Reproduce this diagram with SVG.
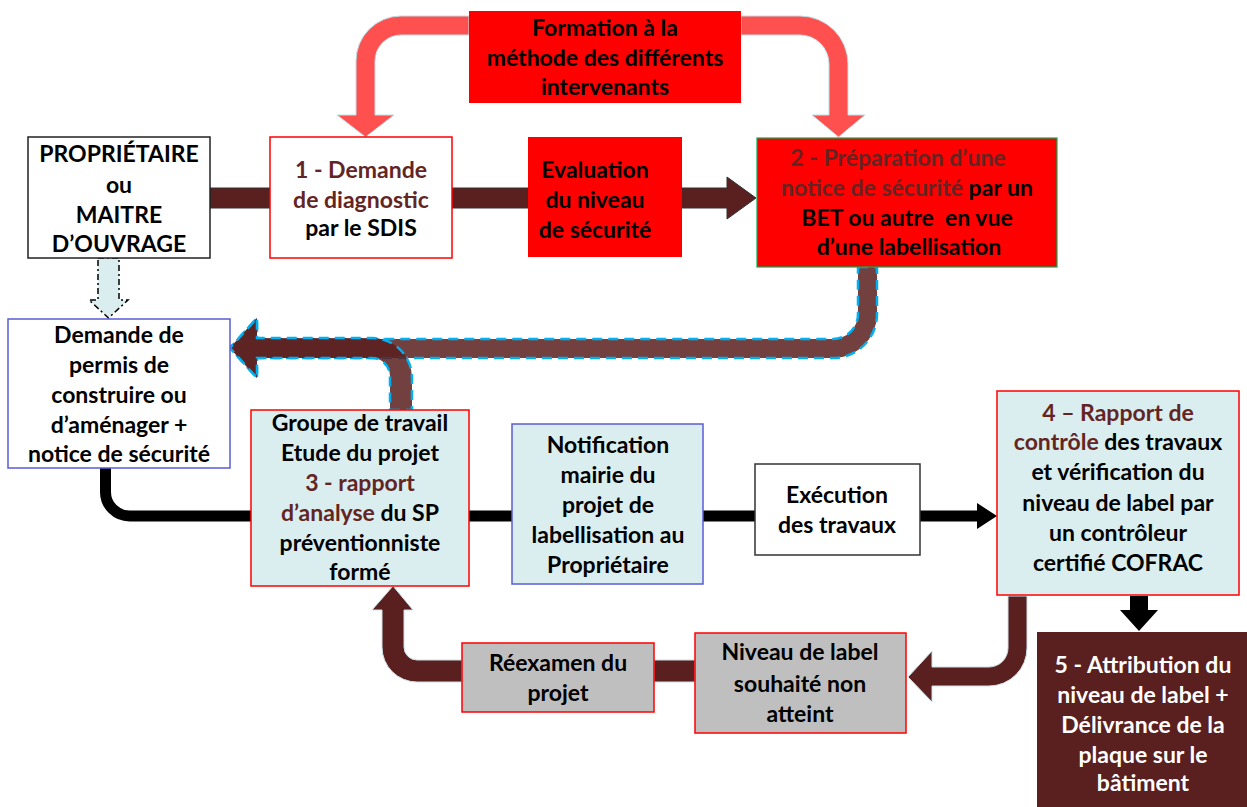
<svg xmlns="http://www.w3.org/2000/svg" width="1247" height="807" viewBox="0 0 1247 807">
<style>
text{font-family:Lato,"Liberation Sans",sans-serif;font-weight:bold;font-size:23px;text-anchor:middle;fill:#000}
.dr{fill:#632523}
.wt{fill:#fff}
.box{stroke-width:1.5}
.lb{fill:#DAEDEF}
.gr{fill:#BFBFBF}
.brown{fill:#5A1F1F;stroke:#C9E2E8;stroke-width:1}
.bigb{fill:#5A1F1F;fill-opacity:0.85;stroke:#00B0F0;stroke-width:2.5;stroke-dasharray:10 6}
.pink{fill:#FF5050;stroke:#BFE0E6;stroke-width:1}
</style>
<rect width="1247" height="807" fill="#fff"/>
<g id="connectors">
  <path class="pink" d="M469,16 L401,16 A45,45 0 0 0 356,61 L356,115 L337,115 L365.5,137 L394,115 L375,115 L375,61 A26,26 0 0 1 401,35 L469,35 Z"/>
  <path class="pink" d="M741,16 L800,16 A48,48 0 0 1 848,64 L848,115 L865,115 L838.5,137 L812,115 L829,115 L829,64 A29,29 0 0 0 800,35 L741,35 Z"/>
  <path d="M210,188 L727,188 L727,177 L756,198 L727,219 L727,208 L210,208 Z" fill="#5A1F1F" stroke="#333" stroke-width="1"/>
  <path d="M98,258 L119,258 L119,300 L128,300 L108.5,318 L89,300 L98,300 Z" fill="#DAEDEF" stroke="#000" stroke-width="1.5" stroke-dasharray="6 3 2 3"/>
  <path class="bigb" d="M858,267 L877,267 L877,314 A44,44 0 0 1 833,358 L257,358 L257,378 L230,348 L257,318 L257,339 L833,339 A25,25 0 0 0 858,314 Z"/>
  <path class="bigb" d="M390,410 L412,410 L412,378 A40,40 0 0 0 372,338 L257,338 L257,318 L230,348 L257,378 L257,358 L372,358 A18,18 0 0 1 390,376 Z"/>
  <path d="M105.5,468 L105.5,492 A24,24 0 0 0 129.5,516 L977,516" fill="none" stroke="#000" stroke-width="11"/>
  <path d="M977,503 L997,516 L977,529 Z" fill="#000"/>
  <path d="M1130,596 L1148,596 L1148,610 L1158,610 L1139,631 L1120,610 L1130,610 Z" fill="#000"/>
  <path class="brown" d="M1008,596 L1027,596 L1027,648 A38,38 0 0 1 989,686 L932,686 L932,702 L908,677 L932,651 L932,667 L989,667 A19,19 0 0 0 1008,648 Z"/>
  <rect x="654" y="660" width="41" height="22" fill="#5A1F1F" stroke="#C9E2E8" stroke-width="1"/>
  <path class="brown" d="M462,660 L417,660 A13,13 0 0 1 404,647 L404,610 L413,610 L393,586 L372,610 L382,610 L382,647 A35,35 0 0 0 417,682 L462,682 Z"/>
</g>
<g id="formation">
  <rect x="469" y="11" width="272" height="92" fill="#FF0000"/>
  <text x="605" y="36">Formation à la</text>
  <text x="605" y="66">méthode des différents</text>
  <text x="605" y="95">intervenants</text>
</g>
<g id="proprietaire">
  <rect class="box" x="28" y="137" width="182" height="121" fill="#fff" stroke="#222"/>
  <text x="119" y="162">PROPRIÉTAIRE</text>
  <text x="119" y="193">ou</text>
  <text x="119" y="223">MAITRE</text>
  <text x="119" y="252">D’OUVRAGE</text>
</g>
<g id="n1">
  <rect class="box" x="270" y="137" width="182" height="121" fill="#fff" stroke="#FF0000"/>
  <text class="dr" x="361" y="178">1 - Demande</text>
  <text class="dr" x="361" y="208">de diagnostic</text>
  <text x="361" y="236">par le SDIS</text>
</g>
<g id="evaluation">
  <rect x="528" y="137" width="154" height="120" fill="#FF0000"/>
  <text x="595" y="178">Evaluation</text>
  <text x="595" y="208">du niveau</text>
  <text x="595" y="238">de sécurité</text>
</g>
<g id="n2">
  <rect x="757" y="138" width="300" height="129" fill="#FF0000" stroke="#00B050" stroke-width="1.2"/>
  <text class="dr" x="898" y="166">2 - Préparation d’une</text>
  <text x="907" y="196"><tspan class="dr">notice de sécurité</tspan> par un</text>
  <text x="907" y="226" xml:space="preserve">BET ou autre  en vue</text>
  <text x="909" y="255">d’une labellisation</text>
</g>
<g id="permis">
  <rect class="box" x="8" y="319" width="222" height="149" fill="#fff" stroke="#5B5BD6"/>
  <text x="119" y="343">Demande de</text>
  <text x="119" y="373">permis de</text>
  <text x="119" y="403">construire ou</text>
  <text x="119" y="433">d’aménager +</text>
  <text x="119" y="462">notice de sécurité</text>
</g>
<g id="n3">
  <rect class="box lb" x="251" y="410" width="218" height="176" stroke="#FF0000"/>
  <text x="360" y="431">Groupe de travail</text>
  <text x="360" y="461">Etude du projet</text>
  <text class="dr" x="360" y="491">3 - rapport</text>
  <text x="360" y="521"><tspan class="dr">d’analyse</tspan> du SP</text>
  <text x="360" y="551">préventionniste</text>
  <text x="360" y="580">formé</text>
</g>
<g id="notification">
  <rect class="box lb" x="512" y="424" width="191" height="160" stroke="#5B5BD6"/>
  <text x="608" y="453">Notification</text>
  <text x="608" y="483">mairie du</text>
  <text x="608" y="513">projet de</text>
  <text x="608" y="543">labellisation au</text>
  <text x="608" y="573">Propriétaire</text>
</g>
<g id="execution">
  <rect class="box" x="755" y="464" width="165" height="91" fill="#fff" stroke="#333"/>
  <text x="837" y="503">Exécution</text>
  <text x="837" y="533">des travaux</text>
</g>
<g id="n4">
  <rect class="box lb" x="997" y="391" width="242" height="204" stroke="#FF0000"/>
  <text class="dr" x="1118" y="421">4 – Rapport de</text>
  <text x="1118" y="450"><tspan class="dr">contrôle</tspan> des travaux</text>
  <text x="1118" y="480">et vérification du</text>
  <text x="1118" y="511">niveau de label par</text>
  <text x="1118" y="541">un contrôleur</text>
  <text x="1118" y="571">certifié COFRAC</text>
</g>
<g id="n5">
  <rect x="1037" y="632" width="210" height="175" fill="#5A1F1F"/>
  <text class="wt" x="1143" y="673">5 - Attribution du</text>
  <text class="wt" x="1143" y="703">niveau de label +</text>
  <text class="wt" x="1143" y="733">Délivrance de la</text>
  <text class="wt" x="1143" y="763">plaque sur le</text>
  <text class="wt" x="1143" y="791">bâtiment</text>
</g>
<g id="niveau">
  <rect class="box gr" x="695" y="633" width="211" height="100" stroke="#FF0000"/>
  <text x="800" y="660">Niveau de label</text>
  <text x="800" y="692">souhaité non</text>
  <text x="800" y="722">atteint</text>
</g>
<g id="reexamen">
  <rect class="box gr" x="462" y="643" width="192" height="69" stroke="#FF0000"/>
  <text x="558" y="671">Réexamen du</text>
  <text x="558" y="701">projet</text>
</g>
</svg>
